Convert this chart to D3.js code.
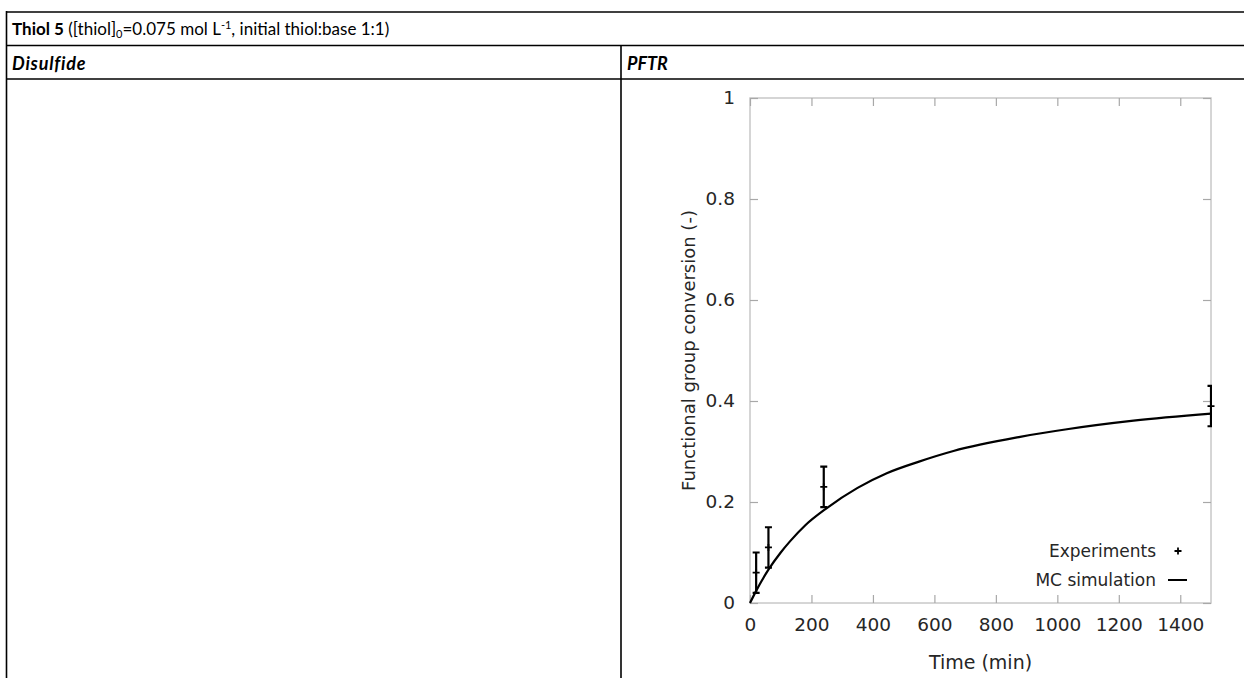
<!DOCTYPE html>
<html>
<head>
<meta charset="utf-8">
<script src="https://cdn.jsdelivr.net/npm/d3@7"></script>
<style>
  body { margin: 0; background: #fff; }
  svg { display: block; }
</style>
</head>
<body>
<div id="chart"></div>
<script>
// experiments (time in min, conversion, error)
const expTime = [20, 60, 240, 1500];
const expConv = [0.06, 0.11, 0.23, 0.39];
const expErr = [0.04, 0.04, 0.04, 0.04];

// MC simulation curve
const simTime = [0, 20, 60, 100, 130, 180, 250, 350, 445, 550, 662, 879, 1031, 1248, 1500];
const simConv = [0, 0.024, 0.066, 0.1, 0.122, 0.154, 0.188, 0.228, 0.257, 0.28, 0.301, 0.329, 0.344, 0.361, 0.375];

const xTicks = [0, 200, 400, 600, 800, 1000, 1200, 1400];
const yTicks = [0, 0.2, 0.4, 0.6, 0.8, 1];

const width = 1244, height = 678;
const margin = {top: 98, right: 1244 - 1211, bottom: 678 - 603, left: 750};

const svg = d3.select("#chart")
  .append("svg")
  .attr("width", width)
  .attr("height", height)
  .attr("viewBox", [0, 0, width, height]);

/*
  Table frame
*/
const tableFont = "Lato, 'Open Sans', sans-serif";
const rowLines = [12, 45.5, 79];
svg.selectAll(".rowline")
  .data(rowLines)
  .enter()
  .append("line")
    .attr("x1", 6).attr("x2", width)
    .attr("y1", d => d).attr("y2", d => d)
    .attr("stroke", "#000").attr("stroke-width", 1.6);

svg.append("line")
  .attr("x1", 6.5).attr("x2", 6.5).attr("y1", 11).attr("y2", height)
  .attr("stroke", "#000").attr("stroke-width", 1.6);
svg.append("line")
  .attr("x1", 621).attr("x2", 621).attr("y1", 45.5).attr("y2", height)
  .attr("stroke", "#000").attr("stroke-width", 1.6);

const title = svg.append("text")
  .attr("x", 12).attr("y", 35)
  .attr("font-family", tableFont).attr("font-size", 17);
title.append("tspan").attr("font-weight", "bold").text("Thiol 5");
title.append("tspan").text(" ([thiol]");
title.append("tspan").attr("font-size", 11).attr("dy", 3).text("0");
title.append("tspan").attr("dy", -3).text("=0.075 mol L");
title.append("tspan").attr("font-size", 11).attr("dy", -6).text("-1");
title.append("tspan").attr("dy", 6).text(", initial thiol:base 1:1)");

svg.append("text")
  .attr("x", 12).attr("y", 70)
  .attr("font-family", tableFont).attr("font-size", 18)
  .attr("font-weight", "bold").attr("font-style", "italic")
  .attr("letter-spacing", 0.8)
  .text("Disulfide");
svg.append("text")
  .attr("x", 627).attr("y", 70)
  .attr("font-family", tableFont).attr("font-size", 18)
  .attr("font-weight", "bold").attr("font-style", "italic")
  .text("PFTR");

/*
  Scales
*/
const xScale = d3.scaleLinear()
  .domain([0, 1500])
  .range([margin.left, width - margin.right]);
const yScale = d3.scaleLinear()
  .domain([0, 1])
  .range([height - margin.bottom, margin.top]);

const plotFont = "'DejaVu Sans', sans-serif";
const gridGrey = "#c8c8c8";
const textGrey = "#262626";
const tickLen = 8;

// frame
svg.append("rect")
  .attr("x", xScale(0)).attr("y", yScale(1))
  .attr("width", xScale(1500) - xScale(0))
  .attr("height", yScale(0) - yScale(1))
  .attr("fill", "none").attr("stroke", gridGrey).attr("stroke-width", 1.5);

// axes (ticks inward, mirrored)
function styleAxis(g) {
  g.select(".domain").remove();
  g.selectAll(".tick line").attr("stroke", "#a8a8a8").attr("stroke-width", 1.2);
  g.selectAll(".tick text").attr("fill", textGrey);
  g.attr("font-family", plotFont).attr("font-size", 18.5);
}

svg.append("g")
  .attr("transform", `translate(0,${yScale(0)})`)
  .call(d3.axisBottom(xScale).tickValues(xTicks).tickSize(-tickLen).tickPadding(15).tickFormat(d3.format("d")))
  .call(styleAxis);
svg.append("g")
  .attr("transform", `translate(0,${yScale(1)})`)
  .call(d3.axisTop(xScale).tickValues(xTicks).tickSize(-tickLen).tickFormat(""))
  .call(styleAxis);
svg.append("g")
  .attr("transform", `translate(${xScale(0)},0)`)
  .call(d3.axisLeft(yScale).tickValues(yTicks).tickSize(-tickLen).tickPadding(15).tickFormat(d => d === 0 || d === 1 ? d : d3.format(".1f")(d)))
  .call(styleAxis);
svg.append("g")
  .attr("transform", `translate(${xScale(1500)},0)`)
  .call(d3.axisRight(yScale).tickValues(yTicks).tickSize(-tickLen).tickFormat(""))
  .call(styleAxis);

// axis titles
svg.append("text")
  .attr("x", (xScale(0) + xScale(1500)) / 2).attr("y", 669)
  .attr("text-anchor", "middle")
  .attr("font-family", plotFont).attr("font-size", 19).attr("fill", textGrey)
  .text("Time (min)");
svg.append("text")
  .attr("transform", `translate(695,${(yScale(0) + yScale(1)) / 2}) rotate(-90)`)
  .attr("text-anchor", "middle")
  .attr("font-family", plotFont).attr("font-size", 18).attr("fill", textGrey)
  .text("Functional group conversion (-)");

/*
  Simulation curve
*/
const sim = simTime.map((t, i) => ({t: t, v: simConv[i]}));
const line = d3.line()
  .x(d => xScale(d.t))
  .y(d => yScale(d.v))
  .curve(d3.curveMonotoneX);
svg.append("path")
  .datum(sim)
  .attr("d", line)
  .attr("fill", "none").attr("stroke", "#000").attr("stroke-width", 2.2);

/*
  Experiments with error bars
*/
svg.append("clipPath").attr("id", "plotclip")
  .append("rect")
    .attr("x", xScale(0)).attr("y", yScale(1) - 2)
    .attr("width", xScale(1500) - xScale(0) + 1)
    .attr("height", yScale(0) - yScale(1) + 4);

const exp = expTime.map((t, i) => ({t: t, v: expConv[i], e: expErr[i]}));
const cap = 3.5, mark = 3.5;

const bars = svg.append("g").attr("clip-path", "url(#plotclip)")
  .attr("stroke", "#000").attr("stroke-width", 2.2);
bars.selectAll(".eb")
  .data(exp)
  .enter()
  .append("path")
    .attr("class", "eb")
    .attr("fill", "none")
    .attr("d", d => {
      const x = xScale(d.t), y0 = yScale(d.v - d.e), y1 = yScale(d.v + d.e);
      return `M${x},${y0}V${y1}M${x - cap},${y0}H${x + cap}M${x - cap},${y1}H${x + cap}`;
    });

svg.selectAll(".pt")
  .data(exp)
  .enter()
  .append("path")
    .attr("class", "pt")
    .attr("stroke", "#000").attr("stroke-width", 1.8)
    .attr("d", d => {
      const x = xScale(d.t), y = yScale(d.v);
      return `M${x - mark},${y}H${x + mark}M${x},${y - mark}V${y + mark}`;
    });

/*
  Legend
*/
const legend = svg.append("g")
  .attr("font-family", plotFont).attr("font-size", 17).attr("fill", textGrey);
legend.append("text")
  .attr("x", 1156).attr("y", 557).attr("text-anchor", "end")
  .text("Experiments");
legend.append("path")
  .attr("stroke", "#000").attr("stroke-width", 1.8)
  .attr("d", `M${1178 - mark},551H${1178 + mark}M1178,${551 - mark}V${551 + mark}`);
legend.append("text")
  .attr("x", 1156).attr("y", 586).attr("text-anchor", "end")
  .text("MC simulation");
legend.append("line")
  .attr("x1", 1168).attr("x2", 1187).attr("y1", 580).attr("y2", 580)
  .attr("stroke", "#000").attr("stroke-width", 2);
</script>
</body>
</html>
